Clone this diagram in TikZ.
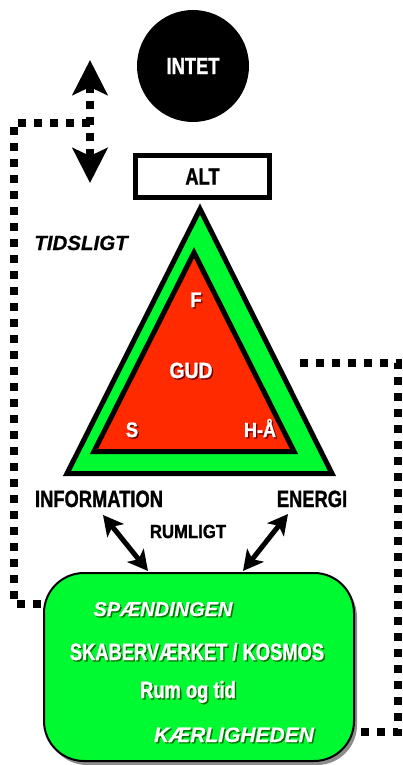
\documentclass[tikz,border=0pt]{standalone}
\usepackage{fontspec}
\setmainfont[FakeStretch=0.78,FakeBold=1.2]{Liberation Sans}
\newfontfamily\semif[FakeStretch=0.88,FakeBold=1.2]{Liberation Sans}
\newfontfamily\itf[FakeBold=0.6]{Liberation Sans}
\usetikzlibrary{arrows.meta,shadows}
\definecolor{mygreen}{RGB}{0,250,50}
\definecolor{myred}{RGB}{255,42,0}
\newcommand\shd[2]{\makebox[0pt][l]{\hspace{1.4pt}\raisebox{-1.4pt}{\textcolor{#1}{#2}}}#2}
\begin{document}
\begin{tikzpicture}[x=1pt,y=-1pt,
  lbl/.style={anchor=base, inner sep=0pt},
  fA/.style={font=\fontsize{23.5pt}{27pt}\selectfont\bfseries},
  fB/.style={font=\fontsize{21pt}{25pt}\selectfont\semif\bfseries},
  fI/.style={font=\fontsize{21pt}{25pt}\selectfont\itf\bfseries\itshape},
  dotline/.style={line width=8pt, dash pattern=on 8pt off 8pt},
  dbl/.style={line width=5pt, {Stealth[length=20pt,width=21pt,inset=5pt]}-{Stealth[length=20pt,width=21pt,inset=5pt]}}
]
\path[fill=white] (0,0) rectangle (403,765);
\useasboundingbox (0,0) rectangle (403,765);

% INTET circle
\node[circle, fill=black, minimum size=112pt, inner sep=0pt, text=white, fA] (intet) at (193,66) {INTET};

% ALT box
\node[draw, line width=5pt, fill=white, minimum width=134pt, minimum height=42pt, inner sep=0pt, fA] (alt) at (202.5,176.5) {ALT};

% vertical double arrow (dotted)
\coordinate (vtop) at (90,60);
\coordinate (vbot) at (90,183);
\coordinate (tj) at (90,123);
\draw[dotline, {Stealth[length=35pt,width=35pt,inset=8pt]}-{Stealth[length=35pt,width=35pt,inset=8pt]}] (vtop) -- (vbot);

% triangle
\coordinate (oa) at (200,209);
\coordinate (ob) at (67,473.5);
\coordinate (oc) at (332,473.5);
\coordinate (ia) at (194,252.6);
\coordinate (ib) at (94,451.5);
\coordinate (ic) at (294,451.5);
\draw[line width=5pt, fill=mygreen] (oa) -- (ob) -- (oc) -- cycle;
\draw[line width=5pt, fill=myred] (ia) -- (ib) -- (ic) -- cycle;

\node[lbl, fB, text=white] (f) at (196,307) {\shd{red!45!black}{F}};
\node[lbl, font=\fontsize{22pt}{26pt}\selectfont\semif\bfseries, text=white] (gud) at (191,378) {\shd{red!45!black}{GUD}};
\node[lbl, fB, text=white] (s) at (132,437) {\shd{red!45!black}{S}};
\node[lbl, font=\fontsize{20.5pt}{24pt}\selectfont\semif\bfseries, text=white] (ha) at (260,437) {\shd{red!45!black}{H-Å}};

% labels
\node[lbl, font=\fontsize{20.5pt}{24pt}\selectfont\itf\bfseries\itshape] (tid) at (81,250) {TIDSLIGT};
\node[lbl, fA] (info) at (99,507) {INFORMATION};
\node[lbl, fA] (energi) at (312,507) {ENERGI};
\node[lbl, font=\fontsize{19pt}{23pt}\selectfont\semif\bfseries] (rum) at (188,538) {RUMLIGT};

% green box
\node[draw, line width=2pt, fill=mygreen, rounded corners=40pt, minimum width=310pt, minimum height=188pt,
      drop shadow={shadow xshift=3pt, shadow yshift=-4pt, opacity=0.45, fill=black}] (box) at (199,667) {};

\node[lbl, font=\fontsize{20pt}{24pt}\selectfont\itf\bfseries\itshape, text=white] (spaend) at (163,616) {\shd{black!55!green}{SPÆNDINGEN}};
\node[lbl, fA, text=white] (skab) at (197,660) {\shd{black!55!green}{SKABERVÆRKET / KOSMOS}};
\node[lbl, fA, text=white] (rumtid) at (188,698) {\shd{black!55!green}{Rum og tid}};
\node[lbl, fI, text=white] (kaer) at (234,742) {\shd{black!55!green}{KÆRLIGHEDEN}};

% oblique double arrows
\coordinate (l1) at (103,515);
\coordinate (l2) at (148,571);
\coordinate (r1) at (288,514);
\coordinate (r2) at (243,571);
\draw[dbl] (l1) -- (l2);
\draw[dbl] (r1) -- (r2);

% dotted connectors
\coordinate (bl) at (44,604);
\coordinate (tr) at (300,363);
\coordinate (br) at (354,732);
\draw[dotline] (tj) -- (14,123) -- (14,604) -- (bl);
\draw[dotline] (tr) -- (398,363) -- (398,732) -- (br);
\end{tikzpicture}
\end{document}
